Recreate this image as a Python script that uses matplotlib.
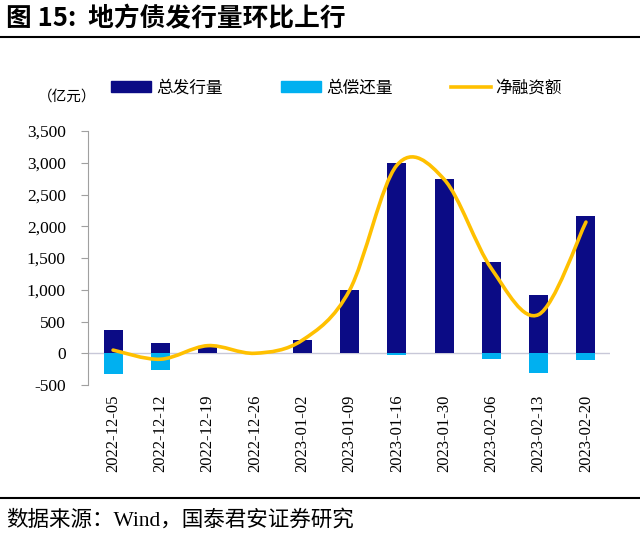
import matplotlib
matplotlib.use("Agg")
import matplotlib.pyplot as plt
import numpy as np
from matplotlib.path import Path
from matplotlib.patches import PathPatch, Patch
from matplotlib.lines import Line2D
from matplotlib.ticker import FuncFormatter

plt.rcParams['font.family'] = ['Liberation Serif', 'Noto Sans CJK SC', 'DejaVu Sans']

dates = ["2022-12-05", "2022-12-12", "2022-12-19", "2022-12-26", "2023-01-02",
         "2023-01-09", "2023-01-16", "2023-01-30", "2023-02-06", "2023-02-13", "2023-02-20"]
issuance = [370, 163, 120, 0, 205, 990, 2990, 2740, 1430, 915, 2166]
repayment = [-320, -257, 0, 0, 0, 0, -30, 0, -95, -305, -100]
net_financing = [50, -94, 120, 0, 205, 990, 2960, 2740, 1335, 610, 2066]

c_dark = "#0B0B85"
c_light = "#00B0F0"
c_line = "#FFC000"

fig = plt.figure(figsize=(6.4, 5.37), dpi=100)
ax = fig.add_axes([88 / 640, 0.283, 0.815, 0.473])

x = np.arange(len(dates))
ax.bar(x, issuance, width=0.4, color=c_dark, zorder=2)
ax.bar(x, repayment, width=0.4, color=c_light, zorder=2)

# smooth line (Catmull-Rom style Bezier through the data points)
pts = np.column_stack([x, net_financing]).astype(float)
verts = [tuple(pts[0])]
codes = [Path.MOVETO]
n = len(pts)
for i in range(n - 1):
    p0 = pts[i - 1] if i > 0 else pts[i]
    p1 = pts[i]
    p2 = pts[i + 1]
    p3 = pts[i + 2] if i + 2 < n else pts[i + 1]
    c1 = p1 + (p2 - p0) / 6.0
    c2 = p2 - (p3 - p1) / 6.0
    verts += [tuple(c1), tuple(c2), tuple(p2)]
    codes += [Path.CURVE4] * 3
ax.add_patch(PathPatch(Path(verts, codes), fill=False, edgecolor=c_line, lw=2.6,
                       zorder=3, capstyle='round'))

ax.axhline(0, color="#C8C8D8", lw=1.0, zorder=1)
ax.set_xlim(-0.53, 10.5)
ax.set_ylim(-500, 3500)
ax.set_yticks(np.arange(-500, 3501, 500))
ax.yaxis.set_major_formatter(FuncFormatter(lambda v, p: f"{int(v):,}"))
ax.set_xticks(x)
ax.set_xticklabels(dates, rotation=90, fontsize=12)
ax.tick_params(axis='x', length=0, pad=7)
ax.tick_params(axis='y', labelsize=12.5, length=5, color="#A0A0A0", direction='out', pad=11)
for s in ['top', 'right', 'bottom']:
    ax.spines[s].set_visible(False)
ax.spines['left'].set_color("#A0A0A0")

# legend
handles = [Patch(color=c_dark), Patch(color=c_light), Line2D([], [], color=c_line, lw=2.6)]
labels = ["总发行量", "总偿还量", "净融资额"]
fig.legend(handles, labels, loc='center left', bbox_to_anchor=(111 / 640, 1 - 88 / 537),
           ncol=3, frameon=False, handlelength=2.4, handleheight=0.6,
           columnspacing=3.5, handletextpad=0.3, borderpad=0, borderaxespad=0,
           prop={'family': ['Noto Sans CJK SC'], 'size': 12})
fig.text(38 / 640, 1 - 97 / 537, "（亿元）", fontsize=10.5, va='center', ha='left',
         family=['Noto Sans CJK SC'])

# title and source
fig.text(6 / 640, 1 - 19 / 537, "图 15:  地方债发行量环比上行", fontsize=18.5, fontweight='bold',
         va='center', ha='left', family=['Noto Sans CJK SC'])
fig.add_artist(Line2D([0, 1], [1 - 37 / 537, 1 - 37 / 537], color='black', lw=1.5))
fig.add_artist(Line2D([0, 1], [1 - 498 / 537, 1 - 498 / 537], color='black', lw=1.5))
fig.text(6 / 640, 1 - 520 / 537, "数据来源：Wind，国泰君安证券研究", fontsize=15.5,
         va='center', ha='left', family=['Liberation Serif', 'Noto Sans CJK SC'])

fig.savefig("out.png", dpi=100)
